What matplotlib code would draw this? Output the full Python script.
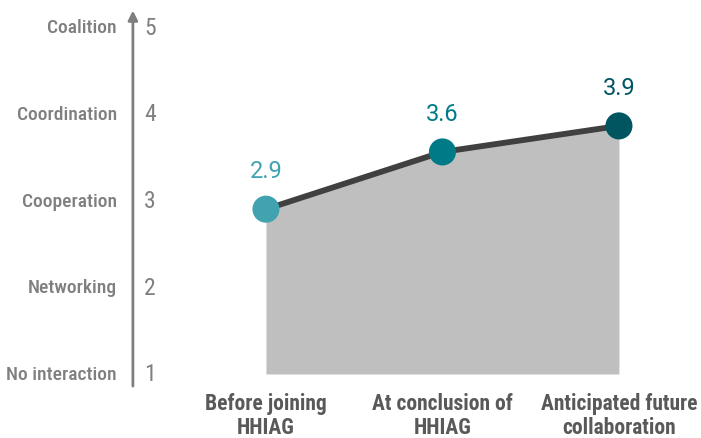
import matplotlib
matplotlib.use("Agg")
import matplotlib.pyplot as plt

# Data
categories = ["Before joining\nHHIAG", "At conclusion of\nHHIAG", "Anticipated future\ncollaboration"]
scores = [2.9, 3.56, 3.86]
point_colors = ["#41A3B0", "#007A87", "#005560"]
levels = [1, 2, 3, 4, 5]
level_names = ["No interaction", "Networking", "Cooperation", "Coordination", "Coalition"]

COND = ["Roboto Condensed", "DejaVu Sans Condensed", "DejaVu Sans"]
GRAY = "#7F7F7F"

fig = plt.figure(figsize=(7.01, 4.39), dpi=100)
ax = fig.add_axes([0, 0, 1, 1])
ax.set_xlim(-1.507, 2.465)
ax.set_ylim(0.262, 5.323)
ax.axis("off")

x = list(range(len(scores)))

# grey area under line
ax.fill_between(x, 1, scores, color="#BFBFBF", lw=0, zorder=1)
ax.plot(x, scores, color="#404040", lw=4.2, zorder=2, solid_capstyle="round")
for xi, s, c in zip(x, scores, point_colors):
    ax.scatter(xi, s, s=380, color=c, zorder=3, edgecolors="none")
    ax.annotate(f"{s:.1f}", (xi, s), xytext=(0, 28), textcoords="offset points",
                ha="center", va="center", fontsize=17, color=c, family="Roboto")

# vertical axis with arrow
axis_x = -0.754
ax.annotate("", xy=(axis_x, 5.19), xytext=(axis_x, 0.86),
            arrowprops=dict(arrowstyle="-|>", color=GRAY, lw=2, mutation_scale=14,
                            shrinkA=0, shrinkB=0))
for lv, name in zip(levels, level_names):
    ax.text(-0.69, lv, str(lv), ha="left", va="center", fontsize=17, color=GRAY, family=COND)
    ax.text(-0.844, lv, name, ha="right", va="center", fontsize=14, color=GRAY,
            family=COND, fontweight="medium")

# category labels
for xi, cat in zip(x, categories):
    ax.text(xi, 0.53, cat, ha="center", va="center", fontsize=15.5, color="#595959",
            fontweight="bold", family=COND, linespacing=1.1)

fig.savefig("out.png", dpi=100)
